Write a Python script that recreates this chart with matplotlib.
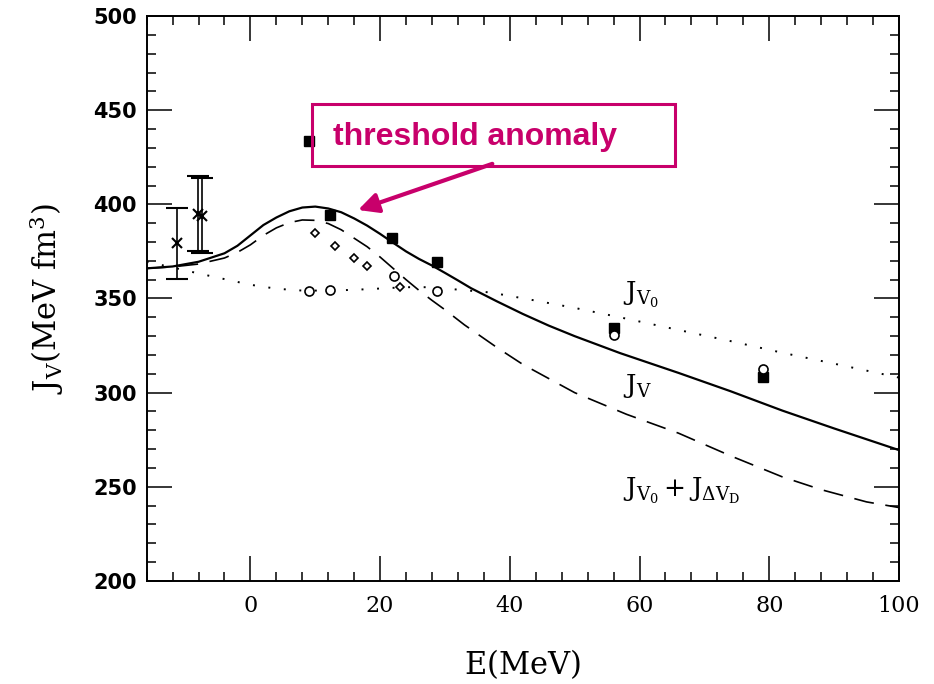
import matplotlib
matplotlib.use('Agg')
import matplotlib.pyplot as plt
from matplotlib.patches import Rectangle
from matplotlib.ticker import MultipleLocator

plt.rcParams['mathtext.fontset'] = 'dejavuserif'
plt.rcParams['font.family'] = ['DejaVu Serif']

MAGENTA = '#C8006B'

# 曲线数据 (E in MeV, J in MeV fm^3)
solid_E = [-16, -12, -8, -4, -2, 0, 2, 4, 6, 8, 10, 12, 14, 16, 18, 20, 22, 24, 26,
           28, 30, 32, 34, 38, 42, 46, 50, 57, 66, 74, 82, 90, 100]
solid_J = [366, 367, 369.5, 374, 378, 383.5, 389, 393, 396.3, 398.3, 398.8, 397.8,
           395.8, 392.5, 388.7, 384.3, 379.6, 375, 371, 367.5, 363.6, 359.6, 355.5,
           348.5, 341.8, 335.6, 330, 321, 310.5, 300.8, 290.5, 281, 269.5]

dashed_E = [-16, -12, -8, -4, -2, 0, 2, 4, 6, 8, 10, 12, 14, 16, 18, 20, 22, 24, 26,
            28, 30, 33, 38, 42, 46, 50, 58, 66, 74, 82, 88, 95, 100]
dashed_J = [366, 366.8, 368.3, 371.5, 374.5, 378.5, 383.5, 387.5, 390.3, 391.7,
            391.5, 389.8, 386.5, 382, 377.5, 372, 366, 360, 354.3, 349, 344, 336,
            324, 315, 307.5, 300, 288.5, 278.5, 266.5, 255.3, 248.5, 242, 239]

dotted_E = [-16, -12, -8, -4, 0, 4, 8, 12, 16, 20, 24, 28, 32, 37, 43, 50, 57, 66,
            74, 82, 90, 100]
dotted_J = [369.5, 366.5, 363.3, 360.3, 357.3, 355.2, 354.2, 354.2, 354.6, 355.3,
            356, 356, 354.7, 353.2, 349.5, 345, 340, 333.3, 327.4, 321.2, 315.4, 308]

# 实验点
square_E = [9.0, 12.3, 21.9, 28.7, 56.0, 79.1]
square_J = [433.8, 394.3, 381.9, 369.2, 334.1, 308.4]

circle_E = [9.0, 12.2, 22.1, 28.7, 56.0, 79.1]
circle_J = [354.0, 354.3, 362.1, 353.8, 330.6, 312.4]

diamond_E = [10.0, 13.1, 16.0, 18.0, 23.0]
diamond_J = [384.9, 378.0, 371.6, 367.2, 356.2]

cross_E = [-11.3, -8.1, -7.4]
cross_J = [379.3, 395.0, 394.0]
cross_err = [19, 20, 20]

fig = plt.figure(figsize=(9.34, 6.84), dpi=100)
ax = fig.add_axes([0.157, 0.1506, 0.8055, 0.826])

ax.plot(solid_E, solid_J, color='black', lw=1.6)
ax.plot(dashed_E, dashed_J, color='black', lw=1.2, linestyle=(0, (12, 7)))
ax.plot(dotted_E, dotted_J, color='black', lw=1.4, linestyle=(0, (1, 7)))

ax.plot(square_E, square_J, 's', color='black', ms=7, zorder=4)
ax.plot(circle_E, circle_J, 'o', mfc='white', mec='black', mew=1.2, ms=6.5, zorder=5)
ax.plot(diamond_E, diamond_J, 'D', mfc='white', mec='black', mew=1.2, ms=4.5, zorder=5)
ax.errorbar(cross_E, cross_J, yerr=cross_err, fmt='x', color='black', ms=7, mew=1.5,
            elinewidth=1.2, capsize=8, capthick=1.2, zorder=5)

# 曲线标签
ax.text(57.5, 349, r'$\mathrm{J_{V_0}}$', fontsize=19, ha='left', va='baseline')
ax.text(57.5, 300, r'$\mathrm{J_V}$', fontsize=19, ha='left', va='baseline')
ax.text(57.5, 244.6, r'$\mathrm{J_{V_0}+J_{\Delta V_D}}$', fontsize=19, ha='left', va='baseline')

ax.set_xlim(-16, 100)
ax.set_ylim(200, 500)
ax.xaxis.set_major_locator(MultipleLocator(20))
ax.xaxis.set_minor_locator(MultipleLocator(4))
ax.yaxis.set_major_locator(MultipleLocator(50))
ax.yaxis.set_minor_locator(MultipleLocator(10))
ax.tick_params(which='both', direction='in', top=True, right=True, width=1.1)
ax.tick_params(which='major', length=18)
ax.tick_params(which='minor', length=6.5)
ax.tick_params(axis='x', labelsize=16, pad=10)
ax.tick_params(axis='y', pad=7)
for lab in ax.get_yticklabels():
    lab.set_family('DejaVu Sans')
    lab.set_fontweight('bold')
    lab.set_fontsize(15)
for s in ax.spines.values():
    s.set_linewidth(1.4)

ax.set_xlabel(r'$\mathrm{E(MeV)}$', fontsize=22, labelpad=22)
ax.set_ylabel(r'$\mathrm{J_V(MeV\ fm^3)}$', fontsize=22, labelpad=20)

# threshold anomaly 标注
ax.add_patch(Rectangle((0.2197, 0.7345), 0.4825, 0.1097, transform=ax.transAxes,
                       fill=False, edgecolor=MAGENTA, lw=2.2, zorder=6, clip_on=False))
ax.text(0.2476, 0.7858, 'threshold anomaly', transform=ax.transAxes, color=MAGENTA,
        fontsize=23, fontweight='bold', family='Liberation Sans', ha='left', va='center')
ax.annotate('', xy=(16.6, 397), xytext=(37.3, 421.5),
            arrowprops=dict(arrowstyle='-|>', color=MAGENTA, lw=3, mutation_scale=30,
                            shrinkA=0, shrinkB=0))

fig.savefig('out.png', dpi=100)
